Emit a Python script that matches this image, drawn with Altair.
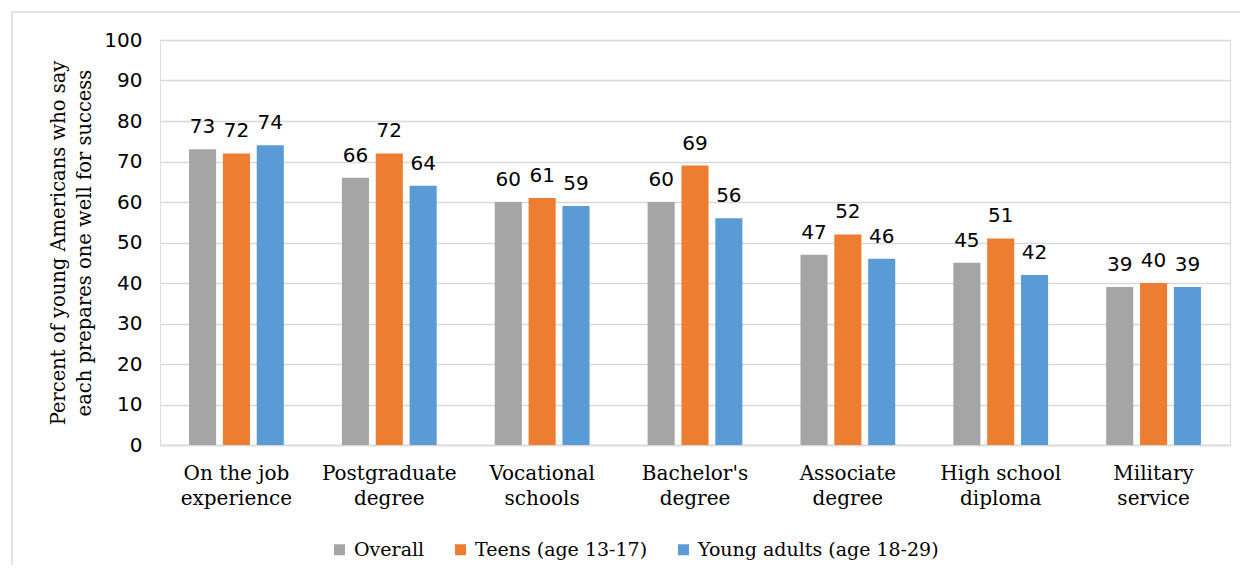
import altair as alt
import pandas as pd

categories = ["On the job experience", "Postgraduate degree", "Vocational schools",
              "Bachelor's degree", "Associate degree", "High school diploma", "Military service"]
series = ["Overall", "Teens (age 13-17)", "Young adults (age 18-29)"]
overall = [73, 66, 60, 60, 47, 45, 39]
teens = [72, 72, 61, 69, 52, 51, 40]
young = [74, 64, 59, 56, 46, 42, 39]
colors = ["#A5A5A5", "#ED7D31", "#5B9BD5"]

rows = []
for i, c in enumerate(categories):
    for s, vals in zip(series, [overall, teens, young]):
        rows.append({"category": c, "series": s, "value": vals[i]})
df = pd.DataFrame(rows)

W, H = 1070, 405
serif = "DejaVu Serif"
sans = "DejaVu Sans"

x = alt.X("category:N", sort=categories, title=None,
          scale=alt.Scale(paddingInner=0.38, paddingOuter=0.19),
          axis=alt.Axis(labelAngle=0, labelFont=serif, labelFontSize=20, labelColor="#000",
                        labelPadding=18, ticks=False, domain=True, domainColor="#d9d9d9",
                        domainWidth=1.5, labelLineHeight=25,
                        labelExpr="[slice(datum.label, 0, lastindexof(datum.label, ' ')), slice(datum.label, lastindexof(datum.label, ' ') + 1)]"))
xo = alt.XOffset("series:N", sort=series, scale=alt.Scale(paddingInner=0.2))
y = alt.Y("value:Q", scale=alt.Scale(domain=[0, 100]),
          axis=alt.Axis(values=list(range(0, 101, 10)), title=["Percent of young Americans who say", "each prepares one well for success"],
                        titleFont=serif, titleFontSize=19.5, titleFontWeight="normal", titleColor="#000",
                        titlePadding=9, titleLineHeight=26,
                        labelFont=sans, labelFontSize=20, labelColor="#000", labelPadding=18,
                        ticks=False, domain=False, gridColor="#d9d9d9", gridWidth=1.5))

bars = alt.Chart(df).mark_bar().encode(
    x=x, xOffset=xo, y=y,
    color=alt.Color("series:N", sort=series, scale=alt.Scale(domain=series, range=colors),
                    legend=alt.Legend(title=None, orient="none", direction="horizontal",
                                      legendX=170, legendY=500,
                                      symbolType="square", symbolSize=120, symbolStrokeWidth=0,
                                      symbolOpacity=1, labelFont=serif, labelFontSize=19,
                                      labelColor="#000", columnPadding=26, labelOffset=5,
                                      labelLimit=500))
)

labels = alt.Chart(df).mark_text(baseline="bottom", dy=-12, font=sans, fontSize=20, color="#000").encode(
    x=alt.X("category:N", sort=categories), xOffset=alt.XOffset("series:N", sort=series),
    y="value:Q", text="value:Q"
)

border = alt.Chart(pd.DataFrame({"a": [0]})).mark_rect(fill=None, stroke="#d9d9d9", strokeWidth=1.5).encode(
    x=alt.value(-148), x2=alt.value(1100), y=alt.value(-28), y2=alt.value(600)
)

chart = alt.layer(border, bars, labels).properties(
    width=W, height=H,
    autosize=alt.AutoSizeParams(type="none"),
    padding={"left": 152, "top": 32, "right": 10, "bottom": 120}
).configure_view(stroke=None).configure(background="white")

chart.save("out.html", embed_options={"renderer": "svg", "actions": False})
